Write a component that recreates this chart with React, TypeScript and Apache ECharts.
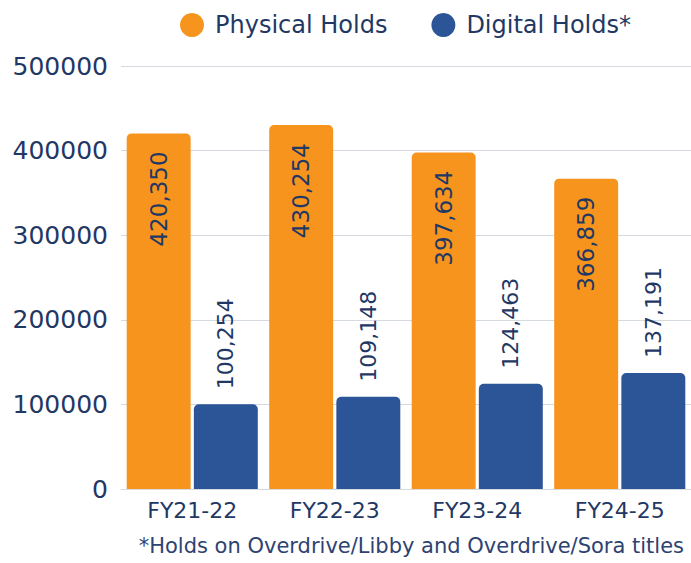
import React, { useEffect, useRef } from "react";
import * as echarts from "echarts";

const categories = ["FY21-22", "FY22-23", "FY23-24", "FY24-25"];
const physicalHolds = [420350, 430254, 397634, 366859];
const digitalHolds = [100254, 109148, 124463, 137191];
const seriesNames = ["Physical Holds", "Digital Holds*"];
const footnote = "*Holds on Overdrive/Libby and Overdrive/Sora titles";

const NAVY = "#1F3864";
const ORANGE = "#F7941D";
const BLUE = "#2B5597";
const FONT = "DejaVu Sans";

const fmt = (v: number) => v.toLocaleString("en-US");

export default function App() {
  const ref = useRef<HTMLDivElement>(null);
  useEffect(() => {
    if (!ref.current) return;
    const chart = echarts.init(ref.current, undefined, { renderer: "svg" });
    chart.setOption({
      animation: false,
      textStyle: { fontFamily: FONT },
      legend: {
        top: 8,
        left: 175,
        itemWidth: 24,
        itemHeight: 24,
        itemGap: 44,
        icon: "circle",
        textStyle: { fontSize: 24, color: NAVY, fontFamily: FONT, padding: [0, 0, 0, 6] },
        data: seriesNames,
      },
      grid: { left: 121, right: -4, top: 66, bottom: 74, containLabel: false },
      xAxis: {
        type: "category",
        data: categories,
        axisLine: { show: true, lineStyle: { color: "#D5D9E0", width: 1 } },
        axisTick: { show: false },
        axisLabel: { fontSize: 22, color: NAVY, margin: 10, fontFamily: FONT },
      },
      yAxis: {
        type: "value",
        min: 0,
        max: 500000,
        interval: 100000,
        axisLine: { show: false },
        axisTick: { show: false },
        splitLine: { lineStyle: { color: "#D5D9E0", width: 1 } },
        axisLabel: {
          fontSize: 25,
          color: NAVY,
          margin: 13,
          fontFamily: FONT,
          formatter: (v: number) => String(v),
        },
      },
      series: [
        {
          name: seriesNames[0],
          type: "bar",
          data: physicalHolds,
          barGap: "5%",
          barCategoryGap: "8%",
          itemStyle: { color: ORANGE, borderRadius: [5, 5, 0, 0] },
          label: {
            show: true,
            position: "insideTop",
            rotate: 90,
            align: "right",
            verticalAlign: "middle",
            distance: 18,
            fontSize: 23,
            color: NAVY,
            fontFamily: FONT,
            formatter: (p: any) => fmt(p.value),
          },
        },
        {
          name: seriesNames[1],
          type: "bar",
          data: digitalHolds,
          barGap: "5%",
          barCategoryGap: "8%",
          itemStyle: { color: BLUE, borderRadius: [5, 5, 0, 0] },
          label: {
            show: true,
            position: "top",
            rotate: 90,
            align: "left",
            verticalAlign: "middle",
            distance: 15,
            fontSize: 22,
            color: NAVY,
            fontFamily: FONT,
            formatter: (p: any) => fmt(p.value),
          },
        },
      ],
      graphic: [
        {
          type: "text",
          right: 7,
          top: 535,
          style: {
            text: footnote,
            fontSize: 21,
            fill: "#2E4272",
            fontFamily: FONT,
          },
        },
      ],
    });
    return () => chart.dispose();
  }, []);
  return <div ref={ref} style={{ width: 691, height: 563, position: "absolute", left: 0, top: 0 }} />;
}
